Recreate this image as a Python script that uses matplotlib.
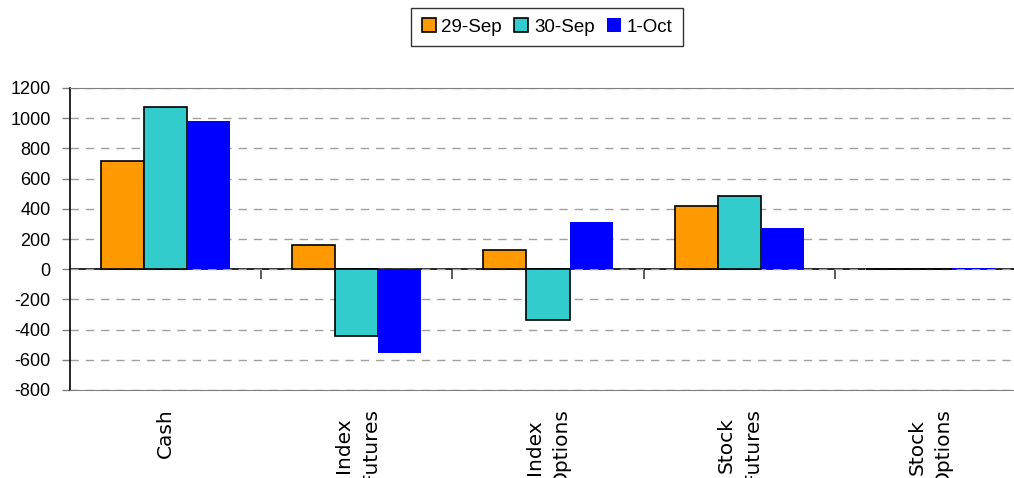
import matplotlib
import matplotlib.pyplot as plt
import numpy as np

matplotlib.use("Agg")

# Chart data
CATEGORIES = ["Cash", "Index\nFutures", "Index\nOptions", "Stock\nFutures", "Stock\nOptions"]
SERIES_NAMES = ["29-Sep", "30-Sep", "1-Oct"]
SEP_29 = [715, 159, 126, 417, 0]
SEP_30 = [1073, -444, -338, 483, 0]
OCT_1 = [980, -556, 311, 272, 8]
Y_TICKS = [-800, -600, -400, -200, 0, 200, 400, 600, 800, 1000, 1200]

COLORS = ["#FF9900", "#33CCCC", "#0000FF"]
EDGES = ["black", "black", "none"]
BAR_W = 0.225

plt.rcParams["font.family"] = ["Liberation Sans", "DejaVu Sans"]
plt.rcParams["axes.unicode_minus"] = False

fig = plt.figure(figsize=(10.14, 4.78), dpi=100)
ax = fig.add_axes([70 / 1014, 88 / 478, 956 / 1014, 302 / 478])

x = np.arange(len(CATEGORIES))
series = [SEP_29, SEP_30, OCT_1]
for i, (name, vals) in enumerate(zip(SERIES_NAMES, series)):
    ax.bar(
        x + (i - 1) * BAR_W,
        vals,
        width=BAR_W,
        color=COLORS[i],
        edgecolor=EDGES[i],
        linewidth=1.2,
        label=name,
        zorder=3,
    )

ax.set_xlim(-0.5, len(CATEGORIES) - 0.5)
ax.set_ylim(-800, 1200)
ax.set_yticks(Y_TICKS)
ax.tick_params(axis="y", direction="out", length=6, width=1, color="#808080",
               labelsize=13, pad=8)
ax.yaxis.grid(True, linestyle=(0, (6, 5)), color="#A0A0A0", linewidth=1, zorder=0)

# category labels along the bottom (cut by the figure edge, as in the source)
ax.set_xticks(x)
ax.set_xticklabels(CATEGORIES, rotation=90, fontsize=14.5, family="DejaVu Sans",
                   multialignment="center", linespacing=1.5)
ax.tick_params(axis="x", length=0, pad=13)

for side in ["top", "bottom", "right"]:
    ax.spines[side].set_color("#808080")
ax.spines["left"].set_color("black")
ax.spines["left"].set_linewidth(1.2)

# x axis line at zero with tick marks between categories
zero_axis = ax.secondary_xaxis(0.4)
zero_axis.set_xticks(x[:-1] + 0.5)
zero_axis.tick_params(axis="x", direction="out", length=7, width=1.2,
                      labelbottom=False, color="#404040")
zero_axis.spines["bottom"].set_linewidth(1.2)

leg = fig.legend(
    loc="center",
    bbox_to_anchor=(547 / 1014, 1 - 27 / 478),
    ncol=3,
    fontsize=13.5,
    frameon=True,
    fancybox=False,
    edgecolor="black",
    handlelength=0.75,
    handleheight=0.75,
    handletextpad=0.3,
    columnspacing=0.65,
    borderpad=0.55,
)
leg.get_frame().set_linewidth(1.0)

fig.savefig("out.png", dpi=100)
plt.close(fig)
